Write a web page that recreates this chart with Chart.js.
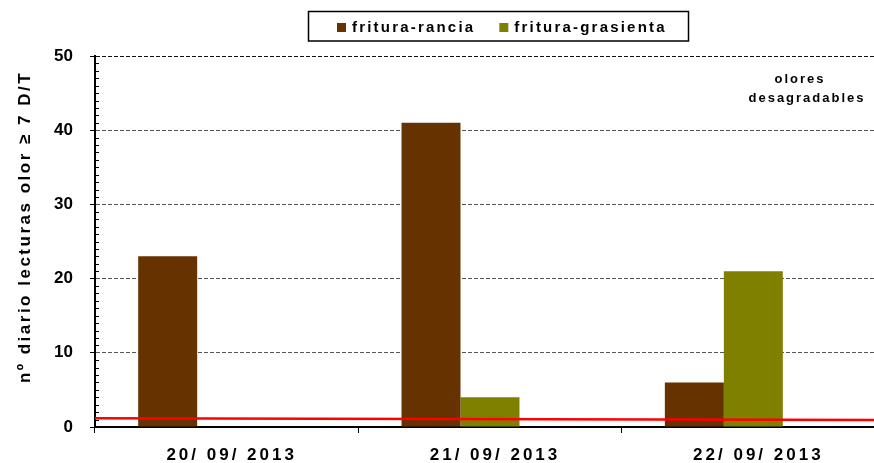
<!DOCTYPE html>
<html>
<head>
<meta charset="utf-8">
<script src="https://cdn.jsdelivr.net/npm/chart.js@4.4.1/dist/chart.umd.min.js"></script>
<style>
html,body{margin:0;padding:0;background:#fff;overflow:hidden;}
.chart-box{position:relative;width:886px;height:463px;}
</style>
</head>
<body>
<div class="chart-box"><canvas id="chart"></canvas></div>
<script>
const dias=['20/ 09/ 2013','21/ 09/ 2013','22/ 09/ 2013'];
const frituraRancia=[23,41,6];
const frituraGrasienta=[0,4,21];
const serieVacia=[null,null,null];// third (empty) series in the original, keeps the bar group shifted
const umbralY=[1.18,0.93];// red line, value at the left and right edge of the plot
const yTicks=[0,10,20,30,40,50];
const tituloY='nº diario lecturas olor ≥ 7 D/T';
const nota=['olores','desagradables'];

const FONT='"Liberation Sans", Arial, sans-serif';

const umbral={//red line over the bars, ends at the plot edges
  id:'umbral',
  afterDatasetsDraw(chart){
    const ctx=chart.ctx, y=chart.scales.y, area=chart.chartArea;
    ctx.save();
    ctx.beginPath();ctx.rect(area.left,area.top,area.right-area.left,area.bottom-area.top);ctx.clip();
    ctx.strokeStyle='#ff0000';ctx.lineWidth=2.5;
    ctx.beginPath();
    ctx.moveTo(area.left,y.getPixelForValue(umbralY[0]));
    ctx.lineTo(area.right,y.getPixelForValue(umbralY[1]));
    ctx.stroke();
    ctx.restore();
  }
};

const extras={
  id:'extras',
  afterDraw(chart){
    const ctx=chart.ctx, x=chart.scales.x, y=chart.scales.y, area=chart.chartArea;
    ctx.save();
    //minor ticks on the y axis, inside
    ctx.strokeStyle='#000';ctx.lineWidth=1;
    for(let v=y.min;v<=y.max;v+=1){
      if(v%10===0) continue;
      const py=Math.round(y.getPixelForValue(v))+0.5;
      ctx.beginPath();ctx.moveTo(area.left+1,py);ctx.lineTo(area.left+4,py);ctx.stroke();
    }
    //x labels
    ctx.fillStyle='#000';ctx.textAlign='center';ctx.textBaseline='middle';
    ctx.font='bold 17px '+FONT;ctx.letterSpacing='3px';
    dias.forEach((d,i)=>ctx.fillText(d,x.getPixelForValue(i)+5,455));
    //y title
    ctx.save();
    ctx.translate(25,228);ctx.rotate(-Math.PI/2);
    ctx.font='bold 17px '+FONT;ctx.letterSpacing='2.5px';
    ctx.fillText(tituloY,1,0);
    ctx.restore();
    //note
    ctx.font='bold 13px '+FONT;ctx.letterSpacing='2px';
    ctx.fillText(nota[0],800,79);
    ctx.fillText(nota[1],807,98);
    //legend box
    ctx.lineWidth=1.5;ctx.strokeStyle='#000';
    ctx.strokeRect(308.5,11.5,380,29.5);
    ctx.font='bold 15px '+FONT;ctx.letterSpacing='2.2px';ctx.textAlign='left';
    let lx=337;
    chart.data.datasets.filter(ds=>ds.label).forEach(ds=>{
      ctx.fillStyle=ds.backgroundColor;
      ctx.fillRect(lx,23,9,9);
      ctx.fillStyle='#000';
      ctx.fillText(ds.label,lx+15,28);
      lx+=15+ctx.measureText(ds.label).width+24;
    });
    ctx.restore();
  }
};

new Chart(document.getElementById('chart'),{
  type:'bar',
  data:{
    labels:dias,
    datasets:[
      {label:'fritura-rancia',data:frituraRancia,backgroundColor:'#663300'},
      {label:'fritura-grasienta',data:frituraGrasienta,backgroundColor:'#808000'},
      {label:'',data:serieVacia,backgroundColor:'rgba(0,0,0,0)'}
    ]
  },
  options:{
    responsive:true,maintainAspectRatio:false,animation:false,
    layout:{padding:{top:56,right:1,left:0,bottom:0}},
    datasets:{bar:{categoryPercentage:0.672,barPercentage:1,borderWidth:0}},
    plugins:{legend:{display:false},tooltip:{enabled:false}},
    scales:{
      x:{
        grid:{display:true,drawOnChartArea:false,drawTicks:true,tickLength:6,color:'#000',offset:true},
        border:{color:'#000',width:2},
        ticks:{display:false},
        afterFit(s){s.height=36;}
      },
      y:{
        min:0,max:50,
        afterBuildTicks(s){s.ticks=yTicks.map(v=>({value:v}));},
        grid:{color:c=>c.tick&&c.tick.value===50?'#111':'#555',tickColor:'#000',tickLength:5,tickBorderDash:[]},
        border:{color:'#000',width:2,dash:[4,2]},
        ticks:{padding:17,color:'#000',font:{family:FONT,size:17,weight:'bold'}},
        afterFit(s){s.width=95;}
      }
    }
  },
  plugins:[umbral,extras]
});
</script>
</body>
</html>
